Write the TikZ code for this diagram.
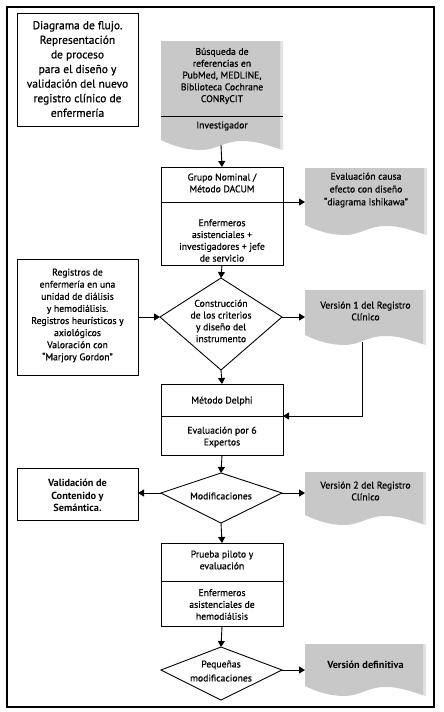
\documentclass[tikz,border=0pt]{standalone}
\usepackage{fontspec}
\setmainfont{PT Sans}
\newfontfamily\medfont{PT Sans}[FakeBold=0.7]
\usetikzlibrary{arrows.meta,calc}
\definecolor{docgray}{RGB}{200,200,200}
\definecolor{docedge}{RGB}{226,226,226}
\tikzset{
  box/.style={draw=black, line width=0.9pt, anchor=north west, inner sep=0pt, outer sep=0pt},
  docarea/.style={anchor=north west, inner sep=0pt, outer sep=0pt},
  txt/.style={align=center, font=\medfont\fontsize{9.7}{11.8}\selectfont, inner sep=0pt},
  btxt/.style={txt, font=\fontsize{10.3}{12.5}\selectfont\bfseries},
  ttxt/.style={align=center, font=\medfont\fontsize{11.5}{14.6}\selectfont, inner sep=0pt},
  arr/.style={draw, line width=0.9pt, -{Triangle[width=7pt,length=6pt]}},
  ln/.style={line width=0.9pt},
}
% #1 x0, #2 x1, #3 top, #4 left end of the wavy bottom
\newcommand\mydoc[4]{%
  \fill[docedge] (#1,#3) -- (#2,#3) -- (#2,{#4+10}) -- ({#2-4},{#4+9}) -- cycle;
  \fill[docgray] (#1,#3) -- ({#2-3},#3) -- ({#2-3},{#4+9})
    .. controls ({#1+0.88*(#2-#1)},{#4+6}) and ({#1+0.8*(#2-#1)},{#4+1}) .. ({#1+0.66*(#2-#1)},{#4+1})
    .. controls ({#1+0.52*(#2-#1)},{#4+1}) and ({#1+0.45*(#2-#1)},{#4+10}) .. ({#1+0.33*(#2-#1)},{#4+10})
    .. controls ({#1+0.22*(#2-#1)},{#4+10}) and ({#1+0.12*(#2-#1)},{#4+7}) .. (#1,#4) -- cycle;
}
\begin{document}
\begin{tikzpicture}[x=1pt,y=-1pt]
\useasboundingbox (0,0) rectangle (444,712);
\draw[line width=1.2pt] (7,7) rectangle (434,707);

% title
\node[box, minimum width=121pt, minimum height=113pt] (title) at (17,13) {};
\node[ttxt] (titleT) at (77.5,69) {Diagrama de flujo.\\Representación\\de proceso\\para el diseño y\\validación del nuevo\\registro clínico de\\enfermería};

% search document
\mydoc{161}{283}{41}{140}
\node[docarea, minimum width=122pt, minimum height=100pt] (search) at (161,41) {};
\draw[ln] (161,116) -- (283,116);
\node[txt] (searchT) at (222,76) {Búsqueda de\\referencias en\\PubMed, MEDLINE,\\Biblioteca Cochrane\\CONRyCIT};
\node[txt] (searchB) at (222,126) {Investigador};
\coordinate (searchOut) at (221,145);

% grupo nominal
\node[box, minimum width=122pt, minimum height=98pt] (grp) at (161,167) {};
\draw[ln] (161,202) -- (283,202);
\node[txt] (grpT) at (222,183) {Grupo Nominal /\\Método DACUM};
\node[txt] (grpB) at (222,240.5) {Enfermeros\\asistenciales +\\investigadores + jefe\\de servicio};
\coordinate (grpSep) at (283,202);

% evaluacion doc
\mydoc{305}{427}{168}{225}
\node[docarea, minimum width=122pt, minimum height=57pt] (eva) at (305,168) {};
\node[txt, font=\medfont\fontsize{9.7}{12.8}\selectfont] (evaT) at (366,190) {Evaluación causa\\efecto con diseño\\“diagrama Ishikawa”};

% left registros box
\node[box, minimum width=121pt, minimum height=116pt] (reg) at (17,259) {};
\node[txt, font=\medfont\fontsize{9.7}{12.1}\selectfont] (regT) at (77.5,315.5) {Registros de\\enfermería en una\\unidad de diálisis\\y hemodiálisis.\\Registros heurísticos y\\axiológicos\\Valoración con\\“Marjory Gordon”};

% diamond 1
\coordinate (c1t) at (221,278);
\coordinate (c1l) at (160,317);
\coordinate (c1r) at (282,317);
\coordinate (c1b) at (221,370);
\draw[ln] (c1t) -- (c1r) -- (c1b) -- (c1l) -- cycle;
\node[txt] (c1) at (221,321) {Construcción\\de los criterios\\y diseño del\\instrumento};

% version 1 doc
\mydoc{305}{426}{290}{335}
\node[docarea, minimum width=121pt, minimum height=45pt] (v1) at (305,290) {};
\node[txt] (v1T) at (365.5,311) {Versión 1 del Registro\\Clínico};
\coordinate (v1out) at (362,342);

% delphi
\node[box, minimum width=122pt, minimum height=71pt] (del) at (161,384) {};
\draw[ln] (161,416) -- (283,416);
\node[txt] (delT) at (222,401) {Método Delphi};
\node[txt] (delB) at (222,437) {Evaluación por 6\\Expertos};
\coordinate (delSep) at (283,416);

% diamond 2
\coordinate (c2t) at (221,473);
\coordinate (c2l) at (161,493);
\coordinate (c2r) at (282,493);
\coordinate (c2b) at (221,523);
\draw[ln] (c2t) -- (c2r) -- (c2b) -- (c2l) -- cycle;
\node[txt] (c2) at (221,496) {Modificaciones};

% validacion box
\node[box, minimum width=121pt, minimum height=52pt] (val) at (17,468) {};
\node[btxt] (valT) at (77.5,495.5) {Validación de\\Contenido y\\Semántica.};

% version 2 doc
\mydoc{305}{426}{472}{515}
\node[docarea, minimum width=121pt, minimum height=43pt] (v2) at (305,472) {};
\node[txt] (v2T) at (365.5,491) {Versión 2 del Registro\\Clínico};

% prueba piloto
\node[box, minimum width=122pt, minimum height=83pt] (pru) at (161,543) {};
\draw[ln] (161,581) -- (283,581);
\node[txt] (pruT) at (222,560) {Prueba piloto y\\evaluación};
\node[txt] (pruB) at (222,604.5) {Enfermeros\\asistenciales de\\hemodiálisis};

% diamond 3
\coordinate (c3t) at (221,647);
\coordinate (c3l) at (161,670);
\coordinate (c3r) at (282,670);
\coordinate (c3b) at (221,700);
\draw[ln] (c3t) -- (c3r) -- (c3b) -- (c3l) -- cycle;
\node[txt, font=\medfont\fontsize{9.7}{14}\selectfont] (c3) at (221,671) {Pequeñas\\modificaciones};

% version definitiva doc
\mydoc{305}{426}{644}{686}
\node[docarea, minimum width=121pt, minimum height=42pt] (vd) at (305,644) {};
\node[btxt] (vdT) at (365.5,665) {Versión definitiva};

% connectors
\draw[arr] (searchOut) -- (grp.north);
\draw[arr] (grpSep) -- (grpSep -| eva.west);
\draw[arr] (grp.south) -- (c1t);
\draw[arr] (reg.east |- c1l) -- (c1l);
\draw[arr] (c1r) -- (c1r -| v1.west);
\draw[arr] (c1b) -- (del.north);
\draw[arr] (v1out) |- (delSep);
\draw[arr] (del.south) -- (c2t);
\draw[arr] (c2l) -- (c2l -| val.east);
\draw[arr] (c2r) -- (c2r -| v2.west);
\draw[arr] (c2b) -- (pru.north);
\draw[arr] (pru.south) -- (c3t);
\draw[arr] (c3r) -- (c3r -| vd.west);
\end{tikzpicture}
\end{document}
